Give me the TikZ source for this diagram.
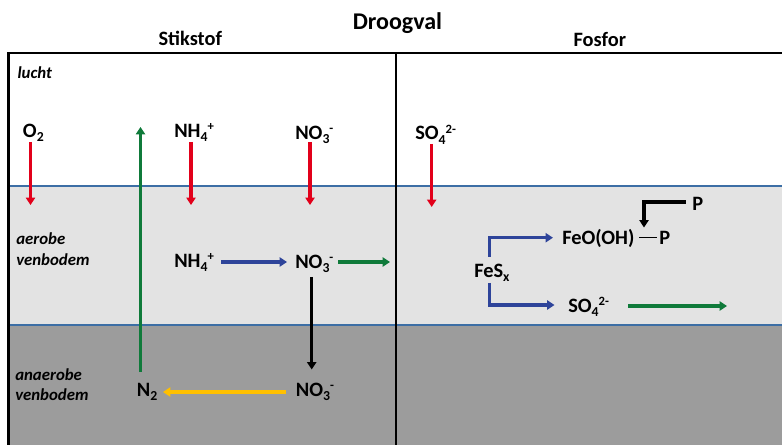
\documentclass[tikz,border=0pt]{standalone}
\usepackage{fontspec}
\setmainfont{Carlito}
\usetikzlibrary{arrows.meta}
\definecolor{lgrey}{HTML}{E3E3E3}
\definecolor{dgrey}{HTML}{9C9C9C}
\definecolor{sepblue}{HTML}{3C6EA5}
\definecolor{myred}{HTML}{E2001A}
\definecolor{mygreen}{HTML}{0F7A3A}
\definecolor{myblue}{HTML}{2E449A}
\definecolor{myyellow}{HTML}{FFC000}
\tikzset{
  chem/.style={font=\bfseries\fontsize{15.3}{18}\selectfont, anchor=base west, inner sep=0pt},
  zone/.style={font=\bfseries\itshape\fontsize{12.6}{15}\selectfont, anchor=base west, inner sep=0pt, align=left},
  head/.style={font=\bfseries\fontsize{15.3}{18}\selectfont, anchor=base west, inner sep=0pt},
  arr/.style={line width=2.6pt, -{Triangle[length=5.5pt,width=6.8pt]}},
  redarr/.style={arr, draw=myred, line width=2.5pt},
  greenarr/.style={arr, draw=mygreen},
  bluearr/.style={arr, draw=myblue},
  blackarr/.style={arr, draw=black},
  yellowarr/.style={arr, draw=myyellow},
  frame/.style={line width=1.6pt, draw=black},
  sepline/.style={line width=0.8pt, draw=sepblue}
}
\newcommand{\chsub}[1]{\raisebox{-3.3pt}{\fontsize{10.3}{12}\selectfont #1}}
\newcommand{\chsup}[1]{\raisebox{5pt}{\fontsize{9.5}{12}\selectfont #1}}
\begin{document}
\begin{tikzpicture}[x=0.75pt,y=-0.75pt]
\useasboundingbox (0,0) rectangle (782,445);
% zones
\fill[lgrey] (8,186) rectangle (782,325);
\fill[dgrey] (8,325) rectangle (782,445);
\draw[sepline] (8,186) -- (782,186);
\draw[sepline] (8,325) -- (782,325);
% frame
\draw[frame] (8.5,445) -- (8.5,53.3) -- (782,53.3);
\draw[frame] (396.2,53.3) -- (396.2,445);
% titles
\node[head, font=\bfseries\fontsize{18}{21}\selectfont] (title) at (352.5,29.3) {Droogval};
\node[head] (stik) at (158.3,45.7) {Stikstof};
\node[head] (fos) at (573.3,46.7) {Fosfor};
% zone labels
\node[zone] (lucht) at (17.3,79) {lucht};
\node[zone] (aer1) at (16,245) {aerobe};
\node[zone] (aer2) at (16,265.5) {venbodem};
\node[zone] (ana1) at (15,380) {anaerobe};
\node[zone] (ana2) at (15,400) {venbodem};
% chemical labels
\node[chem] (o2) at (22.7,137.3) {O\chsub{2}};
\node[chem] (nh4a) at (174,137.3) {NH\chsub{4}\chsup{+}};
\node[chem] (no3a) at (295,139.3) {NO\chsub{3}\chsup{-}};
\node[chem] (so4a) at (415,140) {SO\chsub{4}\chsup{2-}};
\node[chem] (nh4b) at (174,267.3) {NH\chsub{4}\chsup{+}};
\node[chem] (no3b) at (295,268.3) {NO\chsub{3}\chsup{-}};
\node[chem] (no3c) at (295.7,396) {NO\chsub{3}\chsup{-}};
\node[chem] (n2) at (136.7,396) {N\chsub{2}};
\node[chem] (fes) at (474,277.3) {FeS\chsub{x}};
\node[chem] (feo) at (562,244.3) {FeO(OH)};
\node[chem] (p1) at (659,244.3) {P};
\node[chem] (p2) at (692,210.7) {P};
\node[chem] (so4b) at (568,312.3) {SO\chsub{4}\chsup{2-}};
% free ends
\coordinate (o2e) at (30.5,205);
\coordinate (nh4ae) at (191,205);
\coordinate (no3ae) at (310,205);
\coordinate (so4ae) at (431.7,207);
\coordinate (n2top) at (140.5,127);
\coordinate (n2bot) at (140.5,372);
\coordinate (no3out) at (390,262);
\coordinate (so4out) at (727,306);
% deposition arrows
\draw[redarr] (o2e |- 0,142) -- (o2e);
\draw[redarr] (nh4ae |- 0,142) -- (nh4ae);
\draw[redarr] (no3ae |- 0,142) -- (no3ae);
\draw[redarr] (so4ae |- 0,144) -- (so4ae);
% nitrogen cycle
\draw[greenarr] (n2bot) -- (n2top);
\draw[bluearr] (221,262) -- (287,262);
\draw[greenarr] (338,262) -- (no3out);
\draw[blackarr] (311.7,277) -- (311.7,369.5);
\draw[yellowarr] (286,392) -- (163,392);
% phosphorus
\draw[bluearr] (489.5,257) -- (489.5,237.7) -- (553,237.7);
\draw[bluearr] (489.5,283) -- (489.5,305) -- (554.5,305);
\draw[greenarr] (628,306) -- (so4out);
\draw[blackarr] (685.5,202) -- (644,202) -- (644,227.5);
\draw[line width=1.2pt] (639,237.7) -- (657,237.7);
\end{tikzpicture}
\end{document}
